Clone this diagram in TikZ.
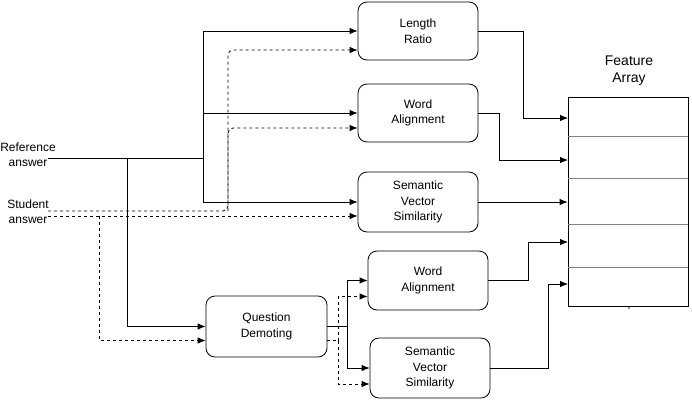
\documentclass[tikz,border=0pt]{standalone}
\usepackage{fontspec}
\setmainfont{Liberation Sans}
\usetikzlibrary{arrows,arrows.meta,positioning}

\begin{document}
\begin{tikzpicture}[x=1pt,y=-1pt,>={Latex[length=8pt,width=6.5pt]},line width=0.8pt,
  box/.style={draw,rounded corners=9pt,minimum width=120pt,minimum height=58pt,align=center,font=\fontsize{12}{15.5}\selectfont},
  lbl/.style={align=center,font=\fontsize{12}{15}\selectfont}]
\useasboundingbox (0,0) rectangle (692,400);
\node[lbl] (ref) at (28,155) {Reference\\answer};
\node[lbl] (stu) at (28,212) {Student\\answer};
\node[box] (lr) at (418,31) {Length\\Ratio};
\node[box] (wa) at (418,113) {Word\\Alignment};
\node[box,minimum height=60pt] (svs) at (418,202) {Semantic\\Vector\\Similarity};
\node[box,minimum width=121pt,minimum height=61pt] (qd) at (266.5,326.5) {Question\\Demoting};
\node[box,minimum height=59pt] (wb) at (428,280.5) {Word\\Alignment};
\node[box,minimum height=60pt] (sb) at (430,368) {Semantic\\Vector\\Similarity};
\node[draw,minimum width=120pt,minimum height=209pt] (fa) at (628,201.5) {};
\node[lbl,font=\fontsize{14}{17}\selectfont] (ft) at (629,71) {Feature\\Array};
\node[font=\fontsize{6}{6}\selectfont,inner sep=0pt] (ast) at (629,309) {*};
\draw[gray] (568,136) -- (688,136);
\draw[gray] (568,178) -- (688,178);
\draw[gray] (568,224) -- (688,224);
\draw[gray] (568,267) -- (688,267);
%
\coordinate (r0) at (48,158);
\coordinate (s0) at (48,211);
\coordinate (s1) at (48,216);
\coordinate (j1) at (203,158);
\coordinate (j2) at (127,158);
\coordinate (j3) at (228,211);
\coordinate (j4) at (99,216);
\coordinate (j5) at ([xshift=20pt]qd.east);
\coordinate (j6) at ([xshift=11pt,yshift=-14pt]qd.east);
\coordinate (f1) at (568,118);
\coordinate (f2) at (568,160);
\coordinate (f4) at (568,242);
\coordinate (f5) at (568,284);
%
\draw (r0) -- (j1);
\draw[->] (j1) |- (lr.west);
\draw[->] (j1) |- (wa.west);
\draw[->] (j1) |- (svs.west);
\draw[->] (j2) |- (qd.west);
\draw[->,dashed,rounded corners=5pt] (s0) -- (j3) |- ([yshift=-19pt]lr.west);
\draw[->,dashed,rounded corners=5pt] (j3) |- ([yshift=-15pt]wa.west);
\draw[->,dashed] (s1) -- ([yshift=-14pt]svs.west);
\draw[->,dashed] (j4) |- ([yshift=-14pt]qd.west);
\draw (qd.east) -- (j5);
\draw[->] (j5) |- (wb.west);
\draw[->] (j5) |- (sb.west);
\draw[dashed] ([yshift=-14pt]qd.east) -- (j6);
\draw[->,dashed] (j6) |- ([yshift=-16pt]wb.west);
\draw[->,dashed] (j6) |- ([yshift=-16pt]sb.west);
\draw[->] (lr.east) -- ++(45,0) |- (f1);
\draw[->] (wa.east) -- ++(21,0) |- (f2);
\draw[->] (svs.east) -- (svs.east -| fa.west);
\draw[->] (wb.east) -- ++(40,0) |- (f4);
\draw[->] (sb.east) -- ++(58,0) |- (f5);
\end{tikzpicture}
\end{document}
